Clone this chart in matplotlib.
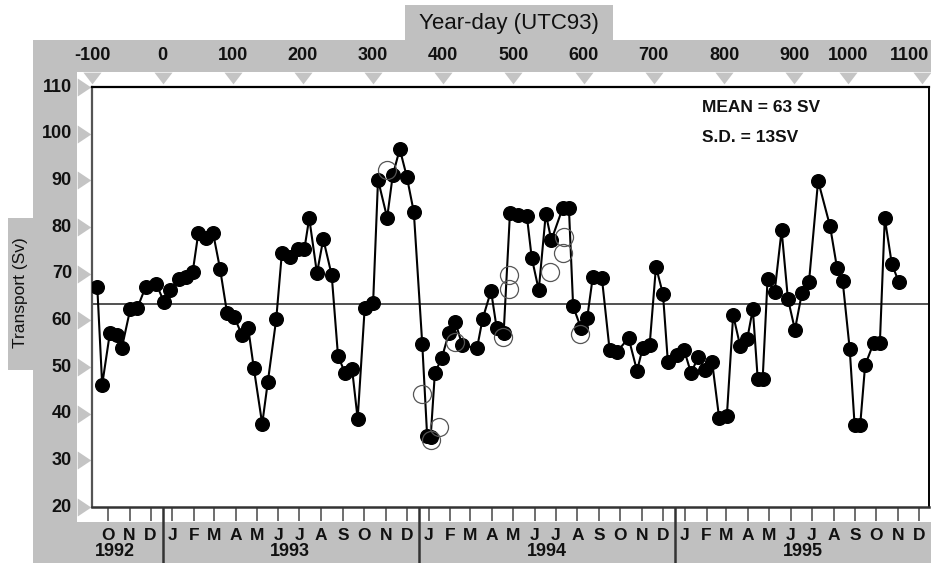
import numpy as np
import matplotlib
matplotlib.use('Agg')
import matplotlib.pyplot as plt
from matplotlib.patches import Rectangle
import matplotlib.transforms as mtransforms

plt.rcParams['font.family'] = ['Liberation Sans', 'DejaVu Sans']

# ---------------- data (year-day UTC93, transport in Sv) ----------------
days = [-93, -86, -75, -65, -58, -46, -36, -24, -9, 2, 11, 23, 33, 43, 51, 62, 72, 82,
        92, 102, 113, 122, 130, 142, 150, 162, 170, 182, 193, 202, 209, 220, 229, 241,
        250, 260, 270, 278, 288, 300, 307, 320, 328, 338, 348, 358, 370, 377, 382, 388,
        398, 408, 417, 427, 448, 456, 468, 476, 486, 495, 506, 519, 526, 536, 546, 554,
        570, 579, 585, 596, 605, 613, 626, 637, 647, 664, 676, 684, 694, 703, 713, 720,
        733, 743, 753, 763, 773, 783, 793, 804, 813, 823, 833, 841, 848, 855, 862, 872,
        882, 891, 901, 911, 921, 934, 951, 961, 969, 979, 986, 994, 1001, 1013, 1022,
        1029, 1039, 1049]
transport = [67.2, 46.2, 57.3, 56.9, 54.1, 62.4, 62.6, 67.2, 67.8, 64.0, 66.5, 68.8, 69.3,
             70.4, 78.7, 77.6, 78.7, 71.0, 61.5, 60.8, 56.9, 58.4, 49.8, 37.8, 46.8, 60.3,
             74.4, 73.6, 75.2, 75.2, 81.9, 70.1, 77.4, 69.7, 52.4, 48.7, 49.6, 38.9, 62.6,
             63.7, 90.1, 82.0, 91.1, 96.7, 90.8, 83.2, 55.0, 35.2, 35.0, 48.7, 52.0, 57.3,
             59.7, 54.7, 54.0, 60.3, 66.3, 58.4, 57.3, 83.0, 82.6, 82.4, 73.4, 66.5, 82.8,
             77.2, 84.0, 84.0, 63.0, 58.4, 60.5, 69.3, 69.0, 53.6, 53.2, 56.2, 49.2, 54.0,
             54.7, 71.5, 65.6, 51.0, 52.6, 53.7, 48.7, 52.1, 49.4, 51.1, 39.1, 39.5, 61.1,
             54.5, 56.0, 62.4, 47.4, 47.4, 68.8, 66.0, 79.3, 64.6, 58.0, 65.9, 68.2, 89.9,
             80.2, 71.2, 68.4, 53.9, 37.6, 37.6, 50.4, 55.1, 55.1, 81.9, 72.1, 68.2]

# open-circle (alternative estimate) points
alt_days = [320, 370, 382, 394, 417, 485, 494, 494, 552, 570, 572, 595]
alt_transport = [92.2, 44.2, 34.4, 37.1, 55.4, 56.4, 69.7, 66.7, 70.4, 74.4, 77.9, 57.0]

mean_level = 63.5
mean_text = 'MEAN = 63 SV'
sd_text = 'S.D. = 13SV'

top_tick_labels = ['-100', '0', '100', '200', '300', '400', '500', '600', '700', '800',
                   '900', '1000', '1100']
top_tick_days = [-100, 0, 100, 200, 300, 400, 500, 600, 700, 800, 900, 976, 1082]
y_ticks = [20, 30, 40, 50, 60, 70, 80, 90, 100, 110]
month_letters = ['J', 'F', 'M', 'A', 'M', 'J', 'J', 'A', 'S', 'O', 'N', 'D']
years = [1992, 1993, 1994, 1995]

# ---------------- figure ----------------
W, H = 931, 563
fig = plt.figure(figsize=(W / 100, H / 100), dpi=100)
fig.patch.set_facecolor('white')

bg = fig.add_axes([0, 0, 1, 1], zorder=0)
bg.set_xlim(0, W)
bg.set_ylim(H, 0)
bg.axis('off')

L, R, T, B = 92, 929, 87, 507
ax = fig.add_axes([L / W, (H - B) / H, (R - L) / W, (B - T) / H], zorder=1)
ax.set_xlim(-100.5, 1092)
ax.set_ylim(20, 110)
ax.set_xticks([])
ax.set_yticks([])
ax.spines['top'].set_color('black'); ax.spines['top'].set_linewidth(1.6)
ax.spines['right'].set_color('black'); ax.spines['right'].set_linewidth(1.4)
ax.spines['left'].set_color('#555555'); ax.spines['left'].set_linewidth(1.6)
ax.spines['bottom'].set_color('#333333'); ax.spines['bottom'].set_linewidth(1.8)

GREY = '#c0c0c0'
TXT = '#111111'

# grey bands (pixel coords)
for (x0, y0, x1, y1) in [(405, 5, 613, 41), (33, 40, W, 72), (33, 40, 77, H),
                         (33, 522, W, H), (8, 218, 35, 370)]:
    bg.add_patch(Rectangle((x0, y0), x1 - x0, y1 - y0, facecolor=GREY, edgecolor='none'))

bg.text(509, 23, 'Year-day (UTC93)', ha='center', va='center', fontsize=16, color=TXT)
bg.text(21, 293, 'Transport (Sv)', ha='center', va='center', rotation=90,
        fontsize=12.5, color=TXT)

tx = mtransforms.blended_transform_factory(ax.transData, bg.transData)
ty = mtransforms.blended_transform_factory(bg.transData, ax.transData)

# top triangles + labels
tri_down = [(-1, 0.65), (1, 0.65), (0, -0.65)]
bg.plot(top_tick_days, [77.5] * len(top_tick_days), linestyle='none', marker=tri_down,
        ms=13, mfc='#c4c4c4', mec='none', transform=tx, clip_on=False)
for i, (d, lab) in enumerate(zip(top_tick_days, top_tick_labels)):
    if i == len(top_tick_days) - 1:
        bg.text(929, 56, lab, ha='right', va='center', fontsize=13,
                fontweight='bold', color=TXT)
    else:
        bg.text(d, 56, lab, transform=tx, ha='center', va='center', fontsize=13,
                fontweight='bold', color=TXT)

# left triangles + labels
tri_right = [(-0.75, 1), (-0.75, -1), (0.75, 0)]
bg.plot([84] * len(y_ticks), y_ticks, linestyle='none', marker=tri_right, ms=13,
        mfc='#c4c4c4', mec='none', transform=ty, clip_on=False)
for v in y_ticks:
    bg.text(72, v, str(v), transform=ty, ha='right', va='center', fontsize=13,
            fontweight='bold', color=TXT)

# month ticks (mid-month) and labels
origin = np.datetime64('1993-01-01')
months = np.arange(np.datetime64('1992-10'), np.datetime64('1996-01'), dtype='datetime64[M]')
mid = [int((m.astype('datetime64[D]') + 14 - origin).astype(int)) for m in months]
month_idx = [int(str(m)[5:7]) - 1 for m in months]
bg.vlines(mid, 508, 521, transform=tx, color='#555555', lw=1.2)
for d, mi in zip(mid, month_idx):
    bg.text(d, 535, month_letters[mi], transform=tx, ha='center', va='center',
            fontsize=12.5, fontweight='bold', color=TXT)

# year separators and year labels
sep_days = [int((np.datetime64(f'{y}-01-01') - origin).astype(int)) for y in years[1:]]
bg.vlines(sep_days, 507, H, transform=tx, color='#333333', lw=1.8)
year_centres = [(mid[0] + mid[1]) / 2 - 5] + [s + 182 for s in sep_days]
for d, y in zip(year_centres, years):
    bg.text(d, 552, str(y), transform=tx, ha='center', va='center', fontsize=13,
            fontweight='bold', color=TXT)

# ---------------- data ----------------
ax.axhline(mean_level, color='#333333', lw=1.2, zorder=1)
ax.plot(days, transport, '-', color='black', lw=1.5, marker='o', ms=9.8,
        mfc='black', mec='black', zorder=3)
ax.plot(alt_days, alt_transport, linestyle='none', marker='o', ms=13, mfc='none',
        mec='#555555', mew=0.9, zorder=4)

ax.text(702, 108, mean_text, transform=bg.transData, ha='left', va='center',
        fontsize=12.5, fontweight='bold', color=TXT)
ax.text(702, 137, sd_text, transform=bg.transData, ha='left', va='center',
        fontsize=12.5, fontweight='bold', color=TXT)

fig.savefig('out.png', dpi=100)
